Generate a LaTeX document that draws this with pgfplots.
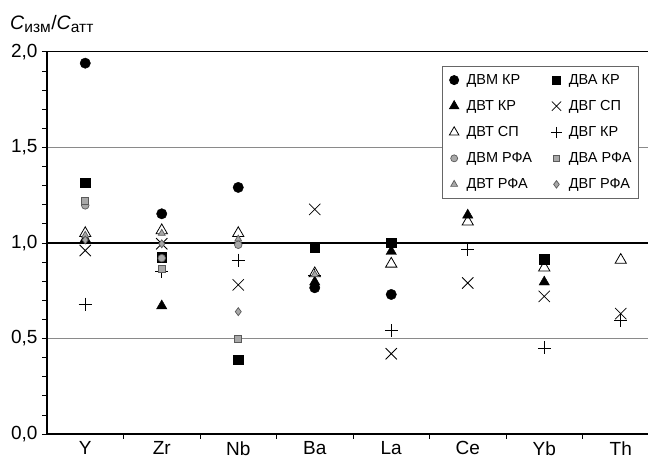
\documentclass[border=0pt]{standalone}
\usepackage{pgfplots}
\pgfplotsset{compat=1.18}
\usepackage{fontspec}
\setmainfont{Liberation Sans}
\definecolor{gfill}{HTML}{A8A8A8}
\definecolor{gedge}{HTML}{5A5A5A}
\definecolor{gridgray}{HTML}{8A8A8A}
\begin{document}
\begin{tikzpicture}[x=1pt,y=1pt]
\useasboundingbox (-47,-25) rectangle (601,434);
\begin{axis}[
  at={(0,0)}, anchor=south west,
  scale only axis, width=612pt, height=382.3pt,
  xmin=-0.5, xmax=7.5, ymin=0, ymax=2,
  axis x line*=bottom, axis y line*=left,
  axis line style={black, line width=1.1pt},
  xtick={0,1,2,3,4,5,6,7},
  xticklabels={Y,Zr,Nb,Ba,La,Ce,Yb,Th},
  minor xtick={0.5,1.5,2.5,3.5,4.5,5.5,6.5},
  major x tick style={draw=none},
  ytick={0,0.5,1,1.5,2},
  minor ytick={0.1,0.2,0.3,0.4,0.6,0.7,0.8,0.9,1.1,1.2,1.3,1.4,1.6,1.7,1.8,1.9},
  tick align=outside,
  major tick length=5pt, minor tick length=4.5pt,
  tick style={black, line width=0.6pt},
  ymajorgrids,
  major grid style={gridgray, line width=0.9pt},
  extra y ticks={1,2},
  extra y tick labels={},
  extra y tick style={grid=major, major grid style={black, line width=1.3pt}},
  ticklabel style={font=\fontsize{19}{21}\selectfont},
  xticklabel style={yshift=1pt},
  yticklabel style={xshift=-1pt, /pgf/number format/.cd, fixed, fixed zerofill, precision=1, use comma, assume math mode=true},
  legend columns=2,
  legend cell align=left,
  legend image code/.code={\path (-6pt,0pt) (10pt,0pt); \draw[#1] plot coordinates {(0pt,0pt)};},
  legend style={at={(0.967,0.9626)}, anchor=north east, draw=gray!80!black, line width=0.7pt,
    font=\fontsize{14.5}{16}\selectfont, inner xsep=5pt, inner ysep=6pt, row sep=10.5pt,
    /tikz/every even column/.append style={column sep=16pt}},
]
% legend images in legend order
\addlegendimage{only marks, mark=*, black, mark size=4.6pt}
\addlegendentry{ДВМ КР}
\addlegendimage{only marks, mark=square*, black, mark size=4.2pt}
\addlegendentry{ДВА КР}
\addlegendimage{only marks, mark=triangle*, black, mark size=5.5pt}
\addlegendentry{ДВТ КР}
\addlegendimage{only marks, mark=x, black, mark size=6.5pt, line width=0.8pt}
\addlegendentry{ДВГ СП}
\addlegendimage{only marks, mark=triangle, black, mark size=5.5pt, line width=0.8pt}
\addlegendentry{ДВТ СП}
\addlegendimage{only marks, mark=+, black, mark size=5.5pt, line width=0.8pt}
\addlegendentry{ДВГ КР}
\addlegendimage{only marks, mark=*, mark size=3.5pt, mark options={fill=gfill, draw=gedge, line width=0.7pt}}
\addlegendentry{ДВМ РФА}
\addlegendimage{only marks, mark=square*, mark size=3.2pt, mark options={fill=gfill, draw=gedge, line width=0.7pt}}
\addlegendentry{ДВА РФА}
\addlegendimage{only marks, mark=triangle*, mark size=4pt, mark options={fill=gfill, draw=gedge, line width=0.7pt}}
\addlegendentry{ДВТ РФА}
\addlegendimage{only marks, mark=diamond*, mark size=3.8pt, mark options={fill=gfill, draw=gedge, line width=0.7pt}}
\addlegendentry{ДВГ РФА}

% ДВТ СП (open triangle)
\addplot[forget plot, only marks, mark=triangle, black, mark size=6.5pt, line width=0.8pt]
  coordinates {(0,1.05) (1,1.065) (2,1.05) (3,0.84) (4,0.89) (5,1.11) (6,0.87) (7,0.91)};
% ДВГ СП (x)
\addplot[forget plot, only marks, mark=x, black, mark size=8pt, line width=0.8pt]
  coordinates {(0,0.96) (1,0.995) (2,0.78) (3,1.175) (4,0.42) (5,0.79) (6,0.72) (7,0.63)};
% ДВГ КР (+)
\addplot[forget plot, only marks, mark=+, black, mark size=6.5pt, line width=0.8pt]
  coordinates {(0,0.68) (1,0.85) (2,0.91) (3,0.83) (4,0.54) (5,0.965) (6,0.45) (7,0.595)};
% ДВА КР
\addplot[forget plot, only marks, mark=square*, black, mark size=4.6pt]
  coordinates {(0,1.315) (1,0.925) (2,0.39) (3,0.977) (4,1.0) (6,0.915)};
% ДВТ КР
\addplot[forget plot, only marks, mark=triangle*, black, mark size=6pt]
  coordinates {(0,1.02) (1,0.67) (3,0.795) (4,0.955) (5,1.145) (6,0.795)};
% ДВМ КР
\addplot[forget plot, only marks, mark=*, black, mark size=5.2pt]
  coordinates {(0,1.94) (1,1.152) (2,1.29) (3,0.765) (4,0.73)};
% ДВТ РФА
\addplot[forget plot, only marks, mark=triangle*, mark size=4pt, mark options={fill=gfill, draw=gedge, line width=0.7pt}]
  coordinates {(0,1.04) (1,1.05) (2,1.02) (3,0.835)};
% ДВГ РФА
\addplot[forget plot, only marks, mark=diamond*, mark size=4pt, mark options={fill=gfill, draw=gedge, line width=0.7pt}]
  coordinates {(0,1.015) (1,0.995) (2,0.64)};
% ДВМ РФА
\addplot[forget plot, only marks, mark=*, mark size=3.8pt, mark options={fill=gfill, draw=gedge, line width=0.7pt}]
  coordinates {(0,1.196) (1,0.92) (2,0.99)};
% ДВА РФА
\addplot[forget plot, only marks, mark=square*, mark size=3.5pt, mark options={fill=gfill, draw=gedge, line width=0.7pt}]
  coordinates {(0,1.22) (1,0.865) (2,0.50)};
\end{axis}
\node[anchor=base west, inner sep=0pt, font=\fontsize{19.5}{21}\selectfont] at (-37,405)
  {\textit{C}\textsubscript{\fontsize{15.5}{16}\selectfont изм}/\textit{C}\textsubscript{\fontsize{15.5}{16}\selectfont атт}};
\end{tikzpicture}
\end{document}
